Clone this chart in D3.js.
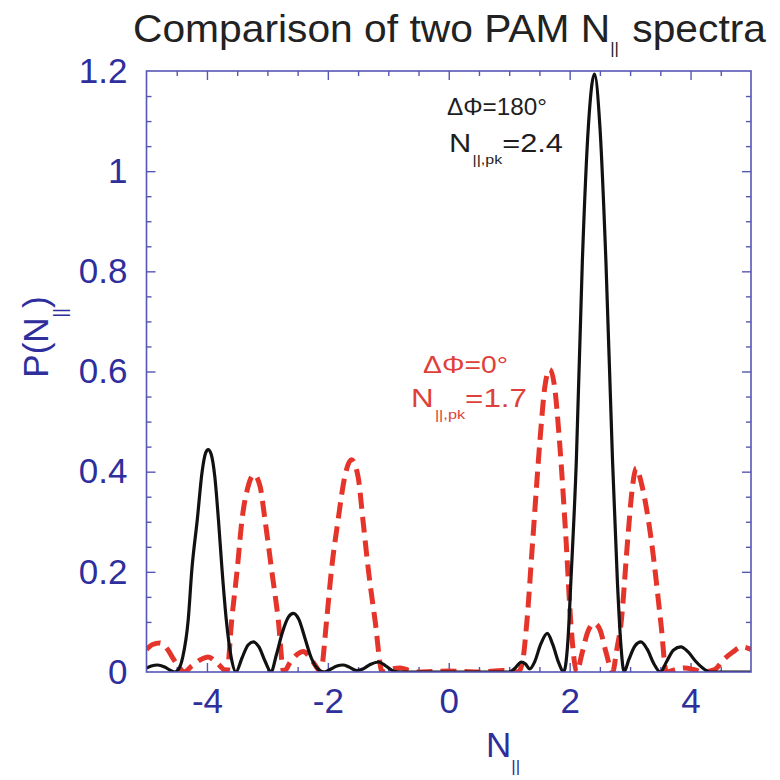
<!DOCTYPE html>
<html>
<head>
<meta charset="utf-8">
<script src="https://cdn.jsdelivr.net/npm/d3@7"></script>
<style>
  html, body { margin: 0; padding: 0; background: #ffffff; }
  svg { display: block; font-family: "Liberation Sans", Arial, Helvetica, sans-serif; }
</style>
</head>
<body>
<svg id="chart" width="780" height="780"></svg>
<script>
// Axis ranges and tick labels
const xDomain = [-5, 5];
const yDomain = [0, 1.2];
const xLabelTicks = [-4, -2, 0, 2, 4];
const xMinorTicks = [-4.5, -4, -3.5, -3, -2.5, -2, -1.5, -1, -0.5, 0, 0.5, 1, 1.5, 2, 2.5, 3, 3.5, 4, 4.5];
const yLabelTicks = [0, 0.2, 0.4, 0.6, 0.8, 1, 1.2];
const yMinorTicks = [0.05, 0.1, 0.15, 0.25, 0.3, 0.35, 0.45, 0.5, 0.55, 0.65, 0.7, 0.75, 0.85, 0.9, 0.95, 1.05, 1.1, 1.15];

// Power spectrum P(N||) for phasing ΔΦ = 180°  [N||, P]
const spec180 = [
  [-5.00, 0.008], [-4.92, 0.012], [-4.82, 0.014], [-4.70, 0.010], [-4.60, 0.003], [-4.53, 0.000],
  [-4.45, 0.010], [-4.40, 0.030], [-4.31, 0.104], [-4.25, 0.204], [-4.16, 0.304], [-4.08, 0.400],
  [-4.02, 0.438], [-3.98, 0.444], [-3.93, 0.435], [-3.87, 0.390], [-3.81, 0.304], [-3.75, 0.204],
  [-3.68, 0.104], [-3.60, 0.030], [-3.52, 0.000], [-3.42, 0.028], [-3.32, 0.054], [-3.23, 0.060],
  [-3.14, 0.050], [-3.04, 0.022], [-2.94, 0.000], [-2.85, 0.035], [-2.75, 0.080], [-2.65, 0.110],
  [-2.57, 0.117], [-2.48, 0.105], [-2.38, 0.068], [-2.28, 0.030], [-2.18, 0.008], [-2.06, 0.000],
  [-1.95, 0.006], [-1.85, 0.012], [-1.75, 0.014], [-1.65, 0.010], [-1.52, 0.003], [-1.42, 0.006],
  [-1.30, 0.015], [-1.16, 0.020], [-1.04, 0.012], [-0.92, 0.002], [-0.80, 0.000], [0.00, 0.000],
  [1.00, 0.000], [1.10, 0.008], [1.20, 0.020], [1.27, 0.016], [1.34, 0.006], [1.42, 0.020],
  [1.52, 0.055], [1.63, 0.077], [1.72, 0.055], [1.82, 0.018], [1.90, 0.000], [1.97, 0.060],
  [2.02, 0.180], [2.11, 0.420], [2.21, 0.820], [2.31, 1.090], [2.41, 1.194], [2.50, 1.090],
  [2.60, 0.820], [2.71, 0.420], [2.79, 0.180], [2.85, 0.050], [2.90, 0.000], [2.98, 0.025],
  [3.08, 0.052], [3.18, 0.060], [3.28, 0.046], [3.40, 0.015], [3.50, 0.000], [3.60, 0.020],
  [3.72, 0.044], [3.84, 0.050], [3.96, 0.040], [4.08, 0.022], [4.20, 0.008], [4.32, 0.000],
  [5.00, 0.000]
];

// Power spectrum P(N||) for phasing ΔΦ = 0°  [N||, P]
const spec0 = [
  [-5.00, 0.045], [-4.90, 0.055], [-4.78, 0.058], [-4.65, 0.045], [-4.55, 0.025], [-4.45, 0.008],
  [-4.38, 0.000], [-4.25, 0.012], [-4.10, 0.025], [-3.98, 0.030], [-3.85, 0.020], [-3.75, 0.008],
  [-3.67, 0.000], [-3.59, 0.104], [-3.50, 0.204], [-3.42, 0.304], [-3.32, 0.370], [-3.22, 0.394],
  [-3.12, 0.370], [-3.04, 0.304], [-2.93, 0.204], [-2.82, 0.104], [-2.73, 0.000], [-2.62, 0.020],
  [-2.50, 0.036], [-2.41, 0.041], [-2.30, 0.030], [-2.20, 0.012], [-2.12, 0.000], [-2.02, 0.104],
  [-1.94, 0.204], [-1.83, 0.304], [-1.72, 0.390], [-1.61, 0.424], [-1.50, 0.390], [-1.42, 0.304],
  [-1.33, 0.204], [-1.22, 0.104], [-1.10, 0.000], [-0.95, 0.006], [-0.80, 0.008], [-0.65, 0.003],
  [-0.50, 0.000], [0.00, 0.002], [0.50, 0.000], [0.90, 0.003], [1.15, 0.000], [1.22, 0.020],
  [1.29, 0.097], [1.39, 0.264], [1.51, 0.464], [1.59, 0.570], [1.67, 0.604], [1.75, 0.570],
  [1.83, 0.464], [1.94, 0.264], [2.02, 0.097], [2.12, 0.000], [2.20, 0.035], [2.30, 0.080],
  [2.41, 0.097], [2.50, 0.085], [2.60, 0.040], [2.71, 0.000], [2.78, 0.045], [2.85, 0.097],
  [2.96, 0.264], [3.03, 0.360], [3.10, 0.407], [3.20, 0.370], [3.35, 0.264], [3.51, 0.097],
  [3.60, 0.000], [3.75, 0.005], [3.90, 0.008], [4.05, 0.005], [4.20, 0.000], [4.40, 0.005],
  [4.55, 0.025], [4.70, 0.040], [4.85, 0.050], [5.00, 0.045]
];

const svg = d3.select("#chart");
const plot = { left: 146.5, right: 751, top: 71, bottom: 672 };

const x = d3.scaleLinear().domain(xDomain).range([plot.left, plot.right]);
const y = d3.scaleLinear().domain(yDomain).range([plot.bottom, plot.top]);

const axisBlue = "#2e2e9c";
const frameBlue = "#5656b4";
const fmt = d => (d < 0 ? "-" + Math.abs(d) : String(d));

svg.append("rect").attr("width", 780).attr("height", 780).attr("fill", "#ffffff");

// Tick marks pointing inward on all four sides
function tickLayer(axis, tx, ty) {
  const g = svg.append("g").attr("transform", `translate(${tx},${ty})`).call(axis);
  g.select(".domain").remove();
  g.selectAll("line").attr("stroke", frameBlue).attr("stroke-width", 1.4);
  g.selectAll("text").remove();
  return g;
}
const yMajor = yLabelTicks.filter(v => v > 0 && v < 1.2);
const xMinorOnly = xMinorTicks.filter(v => !xLabelTicks.includes(v));
tickLayer(d3.axisBottom(x).tickValues(xMinorOnly).tickSizeInner(-5).tickSizeOuter(0), 0, plot.bottom);
tickLayer(d3.axisBottom(x).tickValues(xLabelTicks).tickSizeInner(-9).tickSizeOuter(0), 0, plot.bottom);
tickLayer(d3.axisTop(x).tickValues(xMinorOnly).tickSizeInner(-5).tickSizeOuter(0), 0, plot.top);
tickLayer(d3.axisTop(x).tickValues(xLabelTicks).tickSizeInner(-9).tickSizeOuter(0), 0, plot.top);
tickLayer(d3.axisLeft(y).tickValues(yMinorTicks).tickSizeInner(-5).tickSizeOuter(0), plot.left, 0);
tickLayer(d3.axisLeft(y).tickValues(yMajor).tickSizeInner(-9).tickSizeOuter(0), plot.left, 0);
tickLayer(d3.axisRight(y).tickValues(yMinorTicks).tickSizeInner(-5).tickSizeOuter(0), plot.right, 0);
tickLayer(d3.axisRight(y).tickValues(yMajor).tickSizeInner(-9).tickSizeOuter(0), plot.right, 0);

// Tick labels
const xLab = svg.append("g").attr("transform", `translate(0,${plot.bottom})`)
  .call(d3.axisBottom(x).tickValues(xLabelTicks).tickFormat(fmt).tickSize(0).tickPadding(16));
xLab.select(".domain").remove();
xLab.selectAll("text").attr("font-size", 35).attr("fill", axisBlue)
  .attr("font-family", "Liberation Sans, Arial, sans-serif");

const yLab = svg.append("g").attr("transform", `translate(${plot.left},0)`)
  .call(d3.axisLeft(y).tickValues(yLabelTicks).tickFormat(fmt).tickSize(0).tickPadding(19));
yLab.select(".domain").remove();
yLab.selectAll("text").attr("font-size", 35).attr("fill", axisBlue)
  .attr("font-family", "Liberation Sans, Arial, sans-serif");

// Spectra
const line = d3.line().x(d => x(d[0])).y(d => y(d[1])).curve(d3.curveMonotoneX);
svg.append("clipPath").attr("id", "plotClip").append("rect")
  .attr("x", plot.left).attr("y", plot.top - 4)
  .attr("width", plot.right - plot.left).attr("height", plot.bottom - plot.top + 4);

svg.append("path").datum(spec0)
  .attr("d", line).attr("fill", "none")
  .attr("stroke", "#e5342a").attr("stroke-width", 5)
  .attr("stroke-dasharray", "16,8").attr("stroke-linejoin", "round")
  .attr("clip-path", "url(#plotClip)");

svg.append("path").datum(spec180)
  .attr("d", line).attr("fill", "none")
  .attr("stroke", "#111111").attr("stroke-width", 3.2)
  .attr("stroke-linejoin", "round")
  .attr("clip-path", "url(#plotClip)");

// Frame
svg.append("rect")
  .attr("x", plot.left).attr("y", plot.top)
  .attr("width", plot.right - plot.left).attr("height", plot.bottom - plot.top)
  .attr("fill", "none").attr("stroke", frameBlue).attr("stroke-width", 1.6);

// Title
const title = svg.append("text").attr("x", 133).attr("y", 42)
  .attr("font-size", 39).attr("fill", "#222222")
  .attr("textLength", 633).attr("lengthAdjust", "spacingAndGlyphs");
title.append("tspan").text("Comparison of two PAM N");
title.append("tspan").attr("font-size", 16).attr("dx", 0).attr("dy", 12).text("||");
title.append("tspan").attr("dy", -12).attr("dx", 2).text(" spectra");

// Axis titles
const yTitle = svg.append("text")
  .attr("transform", "translate(48,337) rotate(-90)")
  .attr("text-anchor", "middle").attr("font-size", 35).attr("fill", axisBlue);
yTitle.append("tspan").text("P(N");
yTitle.append("tspan").attr("font-size", 18).attr("dy", 18).text("||");
yTitle.append("tspan").attr("dy", -18).text(")");

const xTitle = svg.append("text").attr("x", 486).attr("y", 757)
  .attr("font-size", 35).attr("fill", axisBlue);
xTitle.append("tspan").text("N");
xTitle.append("tspan").attr("font-size", 17).attr("dy", 15).text("||");

// Peak annotations
function annotate(color, lineA, xA, yA, wA, xB, yB, wB, value) {
  svg.append("text").attr("x", xA).attr("y", yA).attr("font-size", 24)
    .attr("fill", color).attr("textLength", wA).attr("lengthAdjust", "spacingAndGlyphs")
    .text(lineA);
  const t = svg.append("text").attr("x", xB).attr("y", yB).attr("font-size", 25).attr("fill", color)
    .attr("textLength", wB).attr("lengthAdjust", "spacingAndGlyphs");
  t.append("tspan").text("N");
  t.append("tspan").attr("font-size", 13).attr("dy", 12).attr("dx", 1).text("||,pk");
  t.append("tspan").attr("dy", -12).text("=" + value);
}
annotate("#1e1e1e", "ΔΦ=180°", 447, 115, 100, 449, 152, 114, "2.4");
annotate("#e0403a", "ΔΦ=0°", 423, 373, 85, 411, 407, 116, "1.7");
</script>
</body>
</html>
